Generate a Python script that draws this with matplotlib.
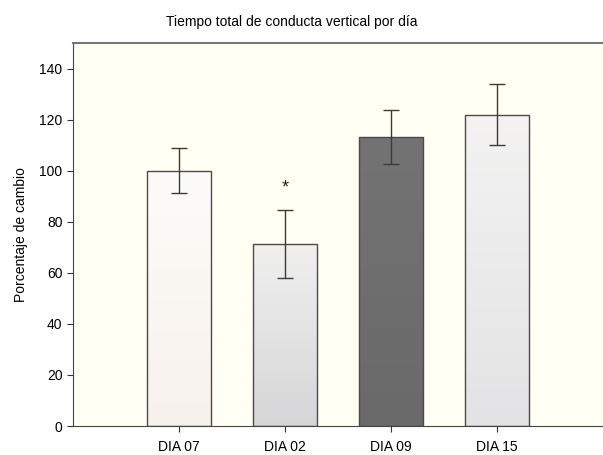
import numpy as np
import matplotlib
matplotlib.use("Agg")
import matplotlib.pyplot as plt
from matplotlib.colors import LinearSegmentedColormap

plt.rcParams['font.family'] = ['Liberation Sans', 'DejaVu Sans']

# tiempo vertical medio (% de cambio) y error estandar
dias = ["DIA 07", "DIA 02", "DIA 09", "DIA 15"]
media = [100, 71.4, 113.1, 121.9]
error = [8.8, 13.3, 10.5, 12.0]
significativo = [False, True, False, False]

# colores de relleno: arriba / abajo de cada barra
color_arriba = ["#fdfcf9", "#f1f0ef", "#737373", "#f4f3f2"]
color_abajo = ["#f7f1ec", "#d6d6d8", "#6a6a6a", "#e3e3e5"]

fig = plt.figure(figsize=(6.03, 4.55), dpi=100)
ax = fig.add_axes([73 / 603, 29 / 455, 530 / 603, 383 / 455])
ax.set_facecolor("#fffff3")

x = np.arange(1, len(dias) + 1)
barras = ax.bar(x, media, width=0.6, color="none", edgecolor="#4a4a4a",
                linewidth=1.0, zorder=3)

# degradado vertical dentro de cada barra
grad = np.linspace(1, 0, 256).reshape(-1, 1)
for b, c1, c2 in zip(barras, color_arriba, color_abajo):
    cmap = LinearSegmentedColormap.from_list("g", [c2, c1])
    x0, y0 = b.get_x(), b.get_y()
    w, h = b.get_width(), b.get_height()
    im = ax.imshow(grad, cmap=cmap, aspect="auto", extent=[x0, x0 + w, y0, y0 + h],
                   origin="upper", zorder=2, vmin=0, vmax=1)
    im.set_clip_path(b)

ax.errorbar(x, media, yerr=error, fmt="none", ecolor="#3a3a3a",
            elinewidth=1.0, capsize=5.5, capthick=1.0, zorder=4)

for xi, m, e, s in zip(x, media, error, significativo):
    if s:
        ax.text(xi, m + e + 5, "*", ha="center", va="bottom", fontsize=13, color="#222222")

ax.set_xlim(0, 5)
ax.set_ylim(0, 150)
ax.set_xticks(x)
ax.set_xticklabels(dias, fontsize=10)
ax.set_yticks(range(0, 141, 20))
ax.tick_params(axis="y", labelsize=10, length=4, color="#333333")
ax.tick_params(axis="x", length=4, color="#333333", pad=6)

ax.spines["right"].set_visible(False)
ax.spines["top"].set_color("#777777")
ax.spines["top"].set_linewidth(1.5)
ax.spines["left"].set_color("#444444")
ax.spines["bottom"].set_color("#444444")

ax.set_ylabel("Porcentaje de cambio", fontsize=10, labelpad=8)
fig.text(292 / 603, 1 - 22 / 455, "Tiempo total de conducta vertical por día",
         ha="center", va="center", fontsize=10)

fig.savefig("out.png", dpi=100, facecolor="white")
